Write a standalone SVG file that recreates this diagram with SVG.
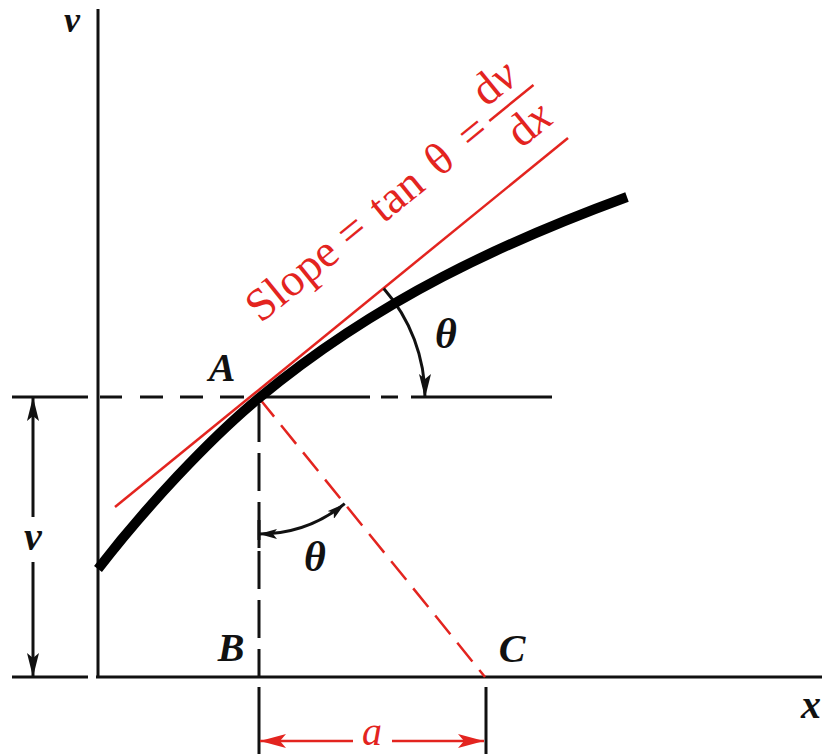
<svg xmlns="http://www.w3.org/2000/svg" width="823" height="754" viewBox="0 0 823 754">
<style>
.k{stroke:#111;fill:none;stroke-width:3}
.r{stroke:#e3241f;fill:none;stroke-width:2.5}
text{font-family:"Liberation Serif",serif}
.lbl{font-style:italic;font-weight:bold;fill:#111;text-anchor:middle}
.red{fill:#e3241f;text-anchor:middle}
</style>
<defs>
<marker id="ahk" viewBox="0 0 24 12" refX="24" refY="6" markerWidth="24" markerHeight="12" markerUnits="userSpaceOnUse" orient="auto-start-reverse">
<path d="M0,0 L24,6 L0,12 L5,6 Z" fill="#111"/>
</marker>
<marker id="ahs" viewBox="0 0 18 10" refX="18" refY="5" markerWidth="18" markerHeight="10" markerUnits="userSpaceOnUse" orient="auto-start-reverse">
<path d="M0,0 L18,5 L0,10 L4,5 Z" fill="#111"/>
</marker>
<marker id="ahr" viewBox="0 0 26 14" refX="26" refY="7" markerWidth="26" markerHeight="14" markerUnits="userSpaceOnUse" orient="auto-start-reverse">
<path d="M0,0 L26,7 L0,14 L6,7 Z" fill="#e3241f"/>
</marker>
</defs>
<rect width="823" height="754" fill="#fff"/>

<g id="axes">
<path class="k" d="M98,9 V678"/>
<path class="k" d="M96,677 H822"/>
</g>

<g id="connectors">
<path class="k" d="M12,397 H88 M100,397 H122 M140,397 H163 M180,397 H203 M220,397 H244 M262,397 H370 M381,397 H398 M411,397 H552"/>
<path class="k" d="M259,404 V677" stroke-dasharray="38 11"/>
<path class="k" d="M259,520 V548"/>
<path class="k" d="M259,687 V754 M486,687 V754"/>
<path class="k" d="M12,677 H88"/>
<path class="k" d="M33,517 V397" stroke-width="2.5" marker-end="url(#ahk)"/>
<path class="k" d="M33,562 V677" stroke-width="2.5" marker-end="url(#ahk)"/>
<path class="r" d="M353,741 H260" marker-end="url(#ahr)"/>
<path class="r" d="M392,741 H484" marker-end="url(#ahr)"/>
<path class="r" d="M115,507 L568,138"/>
<path class="r" d="M259,398 L485,677" stroke-dasharray="24 11"/>
<path class="k" d="M383.7,288.4 A166,166 0 0 1 425,398" stroke-width="2.5" marker-end="url(#ahk)"/>
<path class="k" d="M259,534 A136,136 0 0 0 344.7,503.7" stroke-width="2.5" marker-start="url(#ahs)" marker-end="url(#ahs)"/>
</g>

<g id="curve">
<path d="M98,569 C145,508 209,439.5 259,398 C379,298.4 507,241 627,197" fill="none" stroke="#000" stroke-width="10"/>
</g>

<g id="slope-label" transform="translate(115,507) rotate(-39.16)" font-size="46">
<text class="red" x="281" y="-50">Slope</text>
<text class="red" x="358" y="-50">=</text>
<text class="red" x="415" y="-50">tan</text>
<text class="red" x="471" y="-50">θ</text>
<text class="red" x="514" y="-50">=</text>
<text class="red" x="562" y="-75">d<tspan font-style="italic">v</tspan></text>
<line x1="534" y1="-63" x2="591" y2="-63" stroke="#e3241f" stroke-width="2.5"/>
<text class="red" x="563" y="-21">d<tspan font-style="italic">x</tspan></text>
</g>

<g id="label-v-axis"><text class="lbl" x="72" y="32" font-size="36">v</text></g>
<g id="label-x-axis"><text class="lbl" x="811" y="718" font-size="40">x</text></g>
<g id="node-A"><text class="lbl" x="222" y="381" font-size="40">A</text></g>
<g id="node-B"><text class="lbl" x="231" y="661" font-size="40">B</text></g>
<g id="node-C"><text class="lbl" x="512" y="662" font-size="40">C</text></g>
<g id="label-theta-upper"><text class="lbl" x="446" y="348" font-size="42">θ</text></g>
<g id="label-theta-lower"><text class="lbl" x="315" y="571" font-size="42">θ</text></g>
<g id="label-v-dim"><text class="lbl" x="33" y="550" font-size="40">v</text></g>
<g id="label-a"><text class="red" x="372" y="745" font-size="40" font-style="italic">a</text></g>
</svg>
